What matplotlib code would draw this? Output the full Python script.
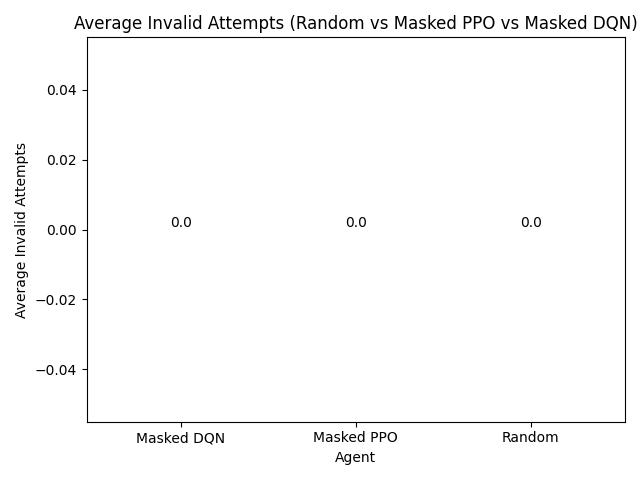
import matplotlib
matplotlib.use('Agg')
import matplotlib.pyplot as plt

agents = ['Masked DQN', 'Masked PPO', 'Random']
avg_invalid = [0.0, 0.0, 0.0]

fig, ax = plt.subplots(figsize=(6.4, 4.8), dpi=100)
bars = ax.bar(agents, avg_invalid, color='#1f77b4')
for i, v in enumerate(avg_invalid):
    ax.text(i, v, f'{v}', ha='center', va='bottom')
ax.set_title('Average Invalid Attempts (Random vs Masked PPO vs Masked DQN)')
ax.set_xlabel('Agent')
ax.set_ylabel('Average Invalid Attempts')
plt.tight_layout()
plt.savefig('out.png')
